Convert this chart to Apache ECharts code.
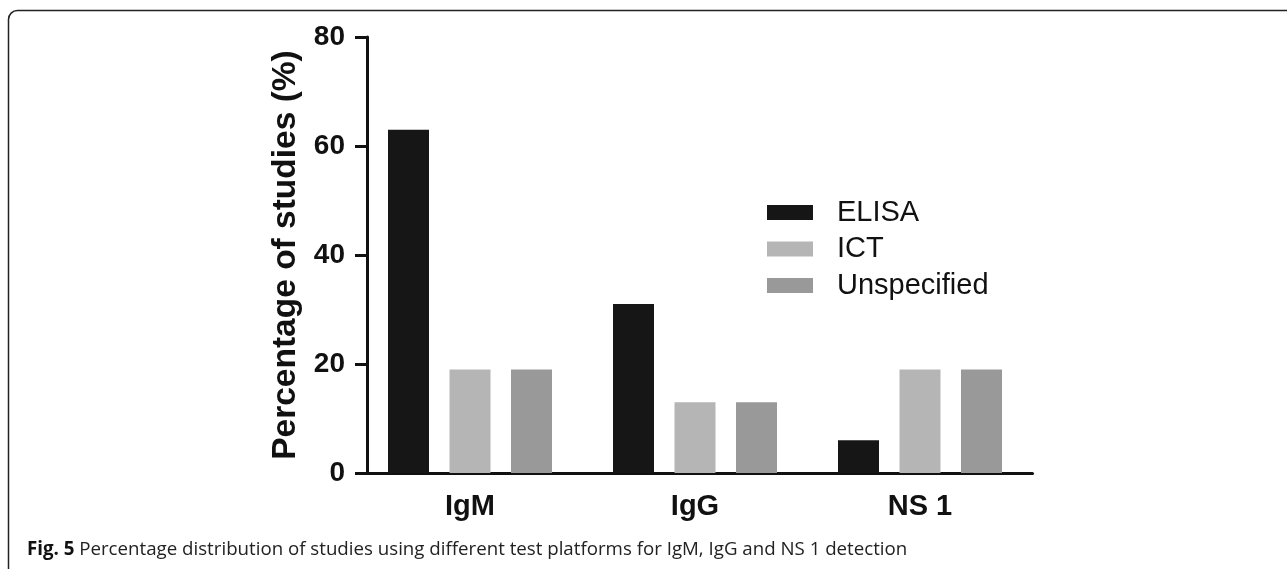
<!DOCTYPE html>
<html>
<head>
<meta charset="utf-8">
<script src="https://cdn.jsdelivr.net/npm/echarts@6/dist/echarts.min.js"></script>
<style>html,body{margin:0;padding:0;background:#fff;}#c{width:1287px;height:569px;}</style>
</head>
<body>
<div id="c"></div>
<script>
const categories = ['IgM', 'IgG', 'NS 1'];
const elisa = [63, 31, 6];
const ict = [19, 13, 19];
const unspecified = [19, 13, 19];
const yTicks = [0, 20, 40, 60, 80];
const captionBold = 'Fig. 5';
const captionText = ' Percentage distribution of studies using different test platforms for IgM, IgG and NS 1 detection';

const chart = echarts.init(document.getElementById('c'));
const barBase = { type: 'bar', barWidth: 41, barGap: '50%' };
chart.setOption({
  animation: false,
  backgroundColor: '#fff',
  title: {
    left: 22, top: 535,
    text: '{b|' + captionBold + '}{r|' + captionText + '}',
    textStyle: {
      fontWeight: 'normal',
      rich: {
        b: { fontFamily: 'Open Sans', fontWeight: 'bold', fontSize: 18.7, color: '#111' },
        r: { fontFamily: 'Open Sans', fontWeight: 'normal', fontSize: 18.7, color: '#222' }
      }
    }
  },
  graphic: [{
    type: 'rect',
    shape: { x: 8.5, y: 10.5, width: 1500, height: 800, r: 9 },
    style: { stroke: '#222', lineWidth: 1.5, fill: null },
    silent: true
  }],
  legend: {
    orient: 'vertical', left: 762, top: 192.5,
    itemWidth: 46, itemHeight: 15, itemGap: 6.5,
    icon: 'rect',
    textStyle: { fontFamily: 'Liberation Sans', fontSize: 29, color: '#111', lineHeight: 30, padding: [0, 0, 0, 19] },
    data: ['ELISA', 'ICT', 'Unspecified']
  },
  grid: { left: 357.5, right: 254.5, top: 37, bottom: 96, containLabel: false },
  xAxis: {
    type: 'category', data: categories,
    axisLine: { lineStyle: { color: '#111', width: 3 } },
    axisTick: { alignWithLabel: true, length: 12, lineStyle: { color: '#111', width: 3 } },
    axisLabel: { margin: 19, fontFamily: 'Liberation Sans', fontWeight: 'bold', fontSize: 29, color: '#111' }
  },
  yAxis: {
    type: 'value', min: 0, max: 80, interval: 20, offset: -9.5,
    name: 'Percentage of studies (%)', nameLocation: 'middle', nameGap: 62,
    nameTextStyle: { fontFamily: 'Liberation Sans', fontWeight: 'bold', fontSize: 33.5, color: '#111' },
    axisLine: { show: true, lineStyle: { color: '#111', width: 3 } },
    axisTick: { show: true, length: 12, lineStyle: { color: '#111', width: 3 } },
    splitLine: { show: false },
    axisLabel: { margin: 22, fontFamily: 'Liberation Sans', fontWeight: 'bold', fontSize: 28, color: '#111',
      formatter: v => yTicks.includes(v) ? String(v) : '' }
  },
  series: [
    Object.assign({ name: 'ELISA', data: elisa, itemStyle: { color: '#161616' } }, barBase),
    Object.assign({ name: 'ICT', data: ict, itemStyle: { color: '#b5b5b5' } }, barBase),
    Object.assign({ name: 'Unspecified', data: unspecified, itemStyle: { color: '#999999' } }, barBase)
  ]
});
</script>
</body>
</html>
